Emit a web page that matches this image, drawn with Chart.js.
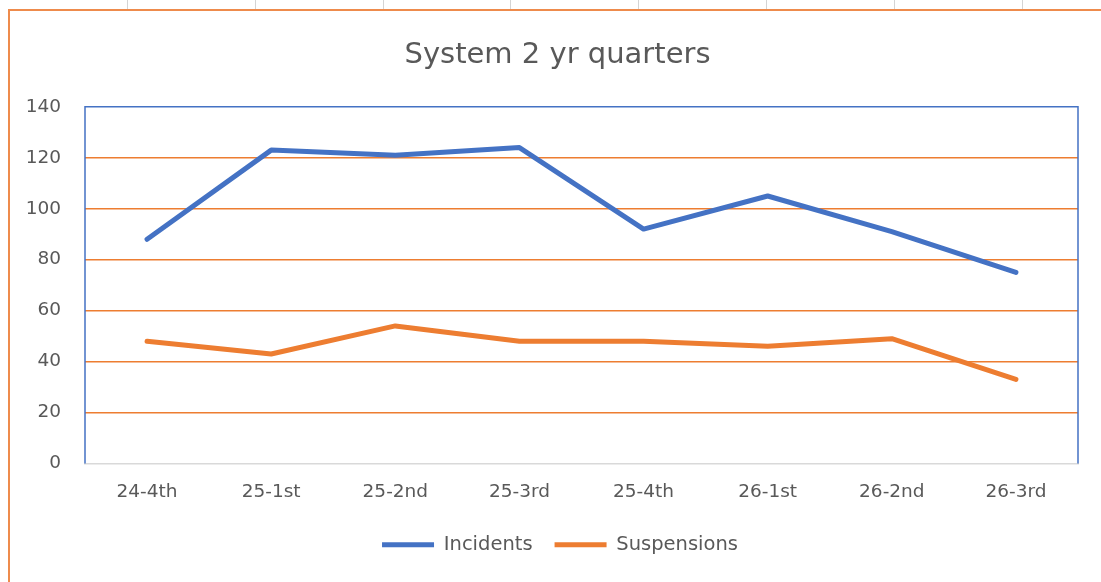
<!DOCTYPE html>
<html>

<head>
    <title>System 2 yr quarters</title>
    <script src="https://cdn.jsdelivr.net/npm/chart.js"></script>
    <style>
        html, body {
            margin: 0;
            padding: 0;
            background: #ffffff;
            overflow: hidden;
        }

        .sheet-line {
            position: absolute;
            top: 0;
            width: 1px;
            height: 9px;
            background: #d4d4d4;
        }

        .chart-frame {
            position: absolute;
            left: 8px;
            top: 9px;
            width: 1200px;
            height: 700px;
            border: 2px solid #ee8b4c;
            background: #ffffff;
        }

        #chart {
            position: absolute;
            left: 0;
            top: 0;
        }
    </style>
</head>

<body>
    <div class="sheet-line" style="left:127px"></div>
    <div class="sheet-line" style="left:255px"></div>
    <div class="sheet-line" style="left:383px"></div>
    <div class="sheet-line" style="left:510px"></div>
    <div class="sheet-line" style="left:638px"></div>
    <div class="sheet-line" style="left:766px"></div>
    <div class="sheet-line" style="left:894px"></div>
    <div class="sheet-line" style="left:1022px"></div>
    <div class="chart-frame"></div>
    <canvas id="chart" width="1101" height="582"></canvas>

    <script>
        // chart data
        const quarters = ['24-4th', '25-1st', '25-2nd', '25-3rd', '25-4th', '26-1st', '26-2nd', '26-3rd'];
        const incidents = [88, 123, 121, 124, 92, 105, 91, 75];
        const suspensions = [48, 43, 54, 48, 48, 46, 49, 33];
        const yTicks = [0, 20, 40, 60, 80, 100, 120, 140];

        const textColor = '#595959';
        const fontFamily = '"DejaVu Sans", sans-serif';

        // blue plot area border (top, left, right) like Excel
        const plotBorder = {
            id: 'plotBorder',
            afterLayout(chart) {
                // the excel frame runs past the window, so title/legend sit a bit right of the plot centre
                if (chart.titleBlock) chart.titleBlock.right += 37;
                if (chart.legend) chart.legend.right += 42;
            },
            afterDraw(chart) {
                const { ctx, chartArea } = chart;
                ctx.save();
                ctx.strokeStyle = '#4472c4';
                ctx.lineWidth = 1.5;
                ctx.beginPath();
                ctx.moveTo(chartArea.left, chartArea.bottom);
                ctx.lineTo(chartArea.left, chartArea.top);
                ctx.lineTo(chartArea.right, chartArea.top);
                ctx.lineTo(chartArea.right, chartArea.bottom);
                ctx.stroke();
                ctx.restore();
            }
        };

        const ctx = document.getElementById('chart').getContext('2d');
        const chart = new Chart(ctx, {
            type: 'line',
            data: {
                labels: quarters,
                datasets: [{
                    label: 'Incidents',
                    data: incidents,
                    borderColor: '#4472c4',
                    backgroundColor: '#4472c4',
                    borderWidth: 5,
                    borderCapStyle: 'round',
                    borderJoinStyle: 'round',
                    pointRadius: 0,
                    tension: 0
                }, {
                    label: 'Suspensions',
                    data: suspensions,
                    borderColor: '#ed7d31',
                    backgroundColor: '#ed7d31',
                    borderWidth: 5,
                    borderCapStyle: 'round',
                    borderJoinStyle: 'round',
                    pointRadius: 0,
                    tension: 0
                }]
            },
            options: {
                responsive: false,
                animation: false,
                layout: {
                    padding: { top: 38, right: 23, bottom: 17.5, left: 0 }
                },
                plugins: {
                    title: {
                        display: true,
                        text: 'System 2 yr quarters',
                        color: textColor,
                        font: { family: fontFamily, size: 29, weight: 'normal', lineHeight: 1.2 },
                        padding: { top: 0, bottom: 34 }
                    },
                    legend: {
                        position: 'bottom',
                        labels: {
                            usePointStyle: true,
                            pointStyle: 'line',
                            pointStyleWidth: 52,
                            color: textColor,
                            font: { family: fontFamily, size: 19.5 },
                            padding: 22
                        }
                    },
                    tooltip: { enabled: false }
                },
                scales: {
                    x: {
                        offset: true,
                        afterFit(scale) { scale.height = 49.5; },
                        grid: { display: false, drawTicks: false },
                        border: { display: true, color: '#d9d9d9', width: 1.5 },
                        ticks: {
                            color: textColor,
                            font: { family: fontFamily, size: 18.5 },
                            padding: 18,
                            maxRotation: 0
                        }
                    },
                    y: {
                        min: 0,
                        max: 140,
                        afterFit(scale) { scale.width = 85; },
                        afterBuildTicks(scale) {
                            scale.ticks = yTicks.map(v => ({ value: v }));
                        },
                        grid: {
                            drawTicks: false,
                            lineWidth: 1.5,
                            color: c => (c.tick.value === 0 || c.tick.value === 140) ? 'rgba(0,0,0,0)' : '#ed7d31'
                        },
                        border: { display: false },
                        ticks: {
                            color: textColor,
                            font: { family: fontFamily, size: 18.5 },
                            padding: 24
                        }
                    }
                }
            },
            plugins: [plotBorder]
        });
    </script>
</body>

</html>
